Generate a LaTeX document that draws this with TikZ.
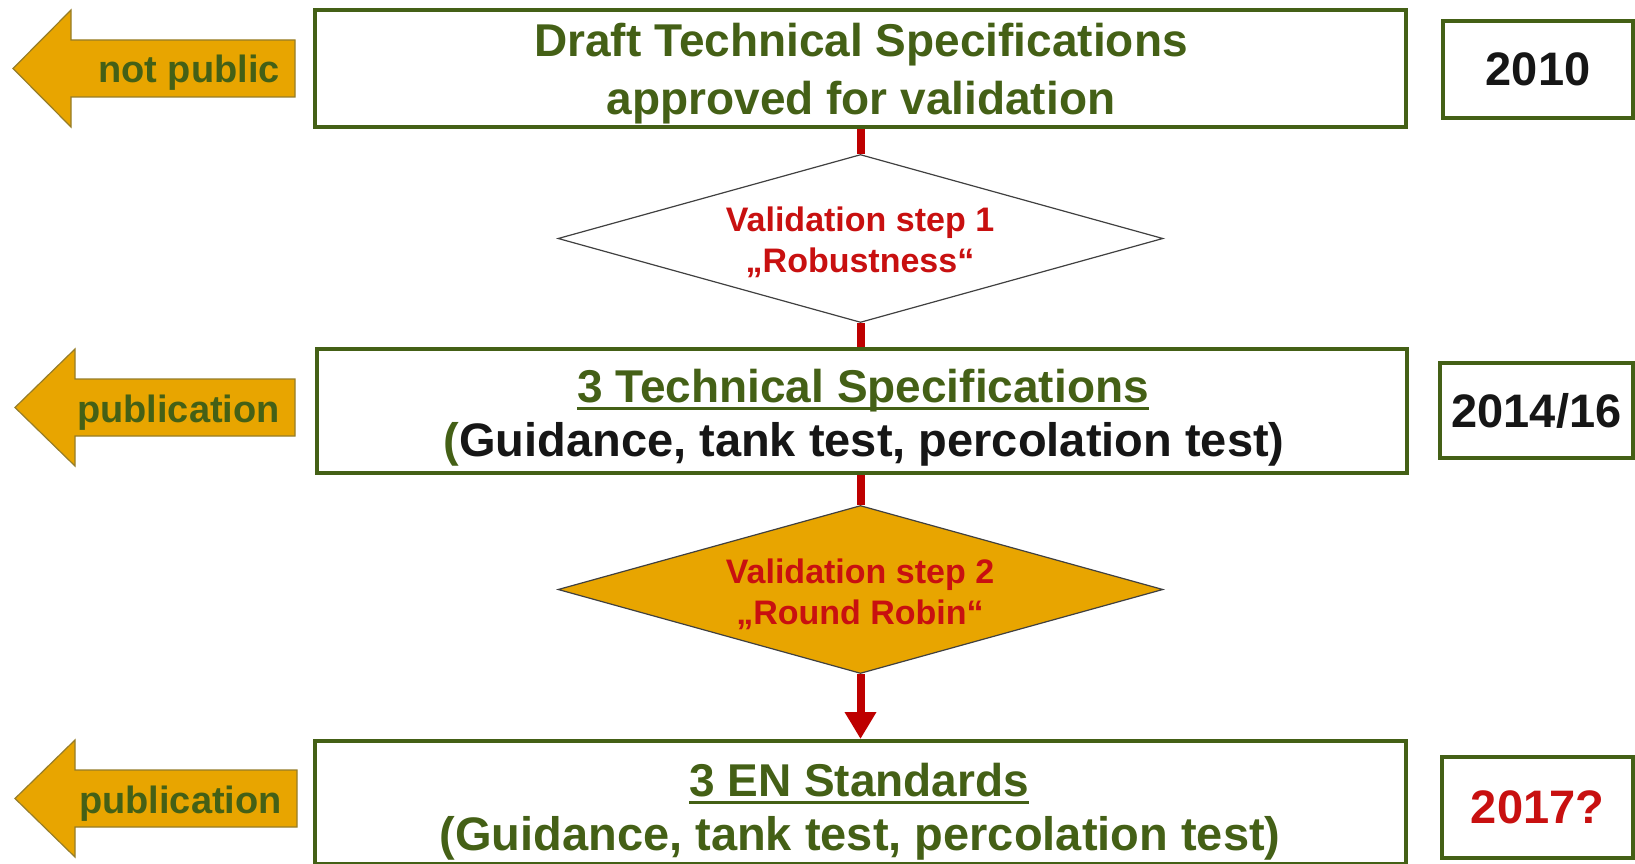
\documentclass[tikz,border=0pt]{standalone}
\usepackage{fontspec}
\setmainfont{Liberation Sans}
\usetikzlibrary{arrows.meta,shapes.geometric}
\definecolor{dkgreen}{RGB}{68,96,22}
\definecolor{gold}{RGB}{232,165,0}
\definecolor{arrowedge}{RGB}{150,125,40}
\definecolor{linkred}{RGB}{190,0,0}
\definecolor{txtred}{RGB}{200,16,16}
\definecolor{nearblack}{RGB}{22,22,22}
\newcommand{\myul}[1]{\leavevmode\setbox0\hbox{#1}\rlap{\rule[-8pt]{\wd0}{3.5pt}}\box0}
\tikzset{
  stagebox/.style={draw=dkgreen, line width=4pt, fill=white, rectangle, inner sep=0pt},
  yearbox/.style={draw=dkgreen, line width=4pt, fill=white, rectangle, inner sep=0pt,
    font=\fontsize{47}{55}\selectfont\bfseries},
  bigtxt/.style={font=\fontsize{46}{55}\selectfont\bfseries, inner sep=0pt, anchor=base},
  paren/.style={font=\fontsize{47}{55}\selectfont\bfseries, inner sep=0pt, anchor=base},
  dectxt/.style={font=\fontsize{34}{41}\selectfont\bfseries, inner sep=0pt, anchor=base, text=txtred},
  decision/.style={diamond, inner sep=0pt, minimum width=605pt, minimum height=168pt, line width=1.2pt},
  leftarrow/.style={fill=gold, draw=arrowedge, line width=1.2pt, line join=miter},
  arrtxt/.style={font=\fontsize{38}{44}\selectfont\bfseries, inner sep=0pt, anchor=base east, text=dkgreen},
  link/.style={draw=linkred, line width=8pt}
}
\begin{document}
\begin{tikzpicture}[x=1pt,y=-1pt]
\useasboundingbox (0,0) rectangle (1635,864);
\fill[white] (0,0) rectangle (1635,864);

% main boxes
\node[stagebox, minimum width=1091pt, minimum height=117pt] (top) at (860.5,68.5) {};
\node[stagebox, minimum width=1090pt, minimum height=124pt] (mid) at (862,411) {};
\node[stagebox, minimum width=1091pt, minimum height=123pt] (bot) at (860.5,802.5) {};

% decisions
\node[decision, draw=black!75, fill=white] (d1) at (860.5,238.5) {};
\node[decision, draw=black!75, fill=gold] (d2) at (860.5,589.5) {};

% connectors
\draw[link] (top.south) -- (d1.north);
\draw[link] (d1.south) -- (d1.south |- mid.north);
\draw[link] (d2.north |- mid.south) -- (d2.north);
\draw[link, -{Triangle[width=30pt,length=27pt]}] (d2.south) -- (bot.north);

% box texts
\node[bigtxt, text=dkgreen] (t1a) at (861,57) {Draft Technical Specifications};
\node[bigtxt, text=dkgreen] (t1b) at (861,114) {approved for validation};
\node[bigtxt, text=dkgreen] (t2a) at (863,402) {\myul{3 Technical Specifications}};
\node[paren, text=nearblack] (t2b) at (864,456) {\textcolor{dkgreen}{(}Guidance, tank test, percolation test)};
\node[bigtxt, text=dkgreen] (t3a) at (859,796) {\myul{3 EN Standards}};
\node[paren, text=dkgreen] (t3b) at (860,850) {(Guidance, tank test, percolation test)};

% decision texts
\node[dectxt] (d1a) at (860,231) {Validation step 1};
\node[dectxt] (d1b) at (860,272) {„Robustness“};
\node[dectxt] (d2a) at (860,583) {Validation step 2};
\node[dectxt] (d2b) at (860,624) {„Round Robin“};

% year boxes
\node[yearbox, minimum width=190pt, minimum height=97pt, text=nearblack] (y1) at (1538,69.5) {2010};
\node[yearbox, minimum width=193pt, minimum height=95pt, text=nearblack] (y2) at (1536.5,410.5) {2014/16};
\node[yearbox, minimum width=191pt, minimum height=101pt, text=txtred] (y3) at (1537.5,807.5) {2017?};

% left arrows
\path[leftarrow] (13,68.5) -- (71,10) -- (71,40) -- (295,40) -- (295,97) -- (71,97) -- (71,127) -- cycle;
\path[leftarrow] (15,407.5) -- (75,349) -- (75,379) -- (295,379) -- (295,436) -- (75,436) -- (75,466) -- cycle;
\path[leftarrow] (15,798.5) -- (75,740) -- (75,770) -- (297,770) -- (297,827) -- (75,827) -- (75,857) -- cycle;
\node[arrtxt] (a1) at (280,83) {not public};
\node[arrtxt] (a2) at (280,422) {publication};
\node[arrtxt] (a3) at (282,813) {publication};
\end{tikzpicture}
\end{document}
